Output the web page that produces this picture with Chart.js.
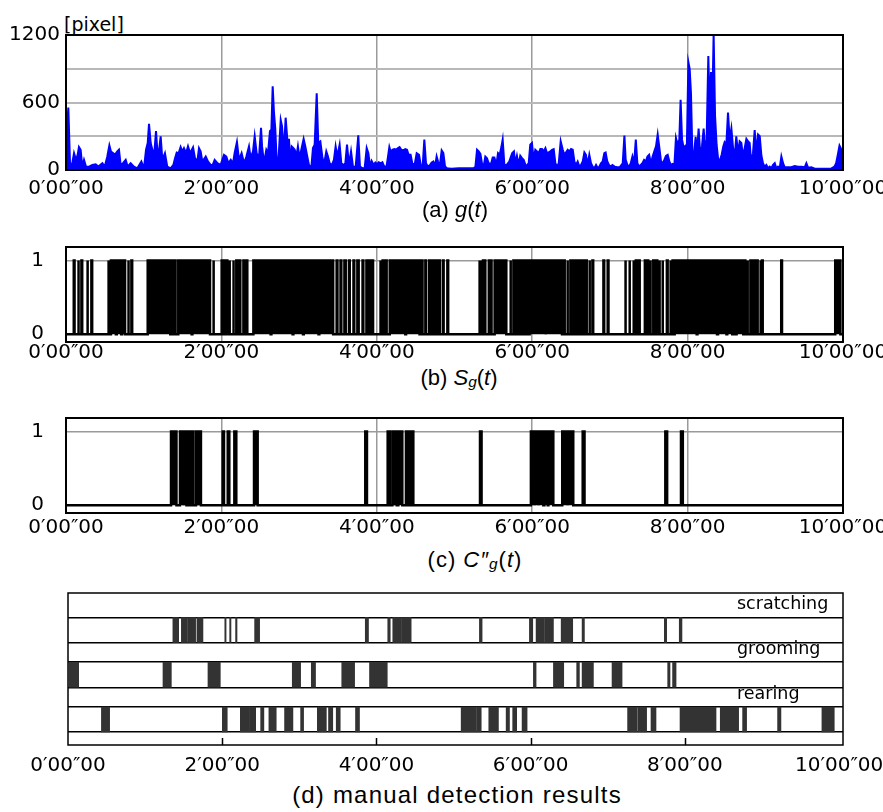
<!DOCTYPE html>
<html>
<head>
<meta charset="utf-8">
<script src="https://cdn.jsdelivr.net/npm/chart.js@4.4.1/dist/chart.umd.min.js"></script>
<style>
  body { margin: 0; background: #fff; width: 883px; height: 812px; overflow: hidden; position: relative; }
  .panel { position: absolute; left: 0; width: 883px; }
  .panel canvas { display: block; }
  .cap { position: absolute; font: 22px "Liberation Sans", Arial, sans-serif; white-space: nowrap; transform: translate(-50%, -50%); }
  .cap sub { font-size: 70%; vertical-align: -2px; }
  .unit { position: absolute; left: 64px; top: 13px; font: 19px "DejaVu Sans", sans-serif; }
</style>
</head>
<body>
<div class="unit">[pixel]</div>
<div class="panel" style="top:0px;height:205px"><canvas id="ga" width="883" height="205"></canvas></div>
<div class="cap" style="left:455px;top:210px">(a) <i>g</i>(<i>t</i>)</div>
<div class="panel" style="top:230px;height:135px"><canvas id="sb" width="883" height="135"></canvas></div>
<div class="cap" style="left:459px;top:378px">(b) <i>S<sub>g</sub></i>(<i>t</i>)</div>
<div class="panel" style="top:400px;height:135px"><canvas id="cc" width="883" height="135"></canvas></div>
<div class="cap" style="left:475px;top:560px;letter-spacing:1px">(c) <i>C″<sub>g</sub></i>(<i>t</i>)</div>
<div class="panel" style="top:575px;height:205px"><canvas id="md" width="883" height="205"></canvas></div>
<div class="cap" style="left:457px;top:795px;font-size:24px;letter-spacing:1.2px">(d) manual detection results</div>

<script>
// time axis (seconds)
var xTickValues = [0, 120, 240, 360, 480, 600];
var xTickLabels = ['0′00″00', '2′00″00', '4′00″00', '6′00″00', '8′00″00', '10′00″00'];

// (a) g(t)
var gTickValues = [0, 300, 600, 900, 1200];
var gTickLabels = ['0', '', '600', '', '1200'];
var gTime = [
  0, 1.8, 3.1, 4.6, 6.2, 7.7, 9.0, 10.0, 11.3, 12.6, 13.9, 15.4, 17.8, 20.3, 22.9, 25.0, 28.1, 29.9, 31.9, 33.5,
  34.7, 36.3, 37.8, 39.6, 40.9, 42.2, 44.0, 46.1, 47.6, 49.9, 52.5, 55.1, 58.2, 60.2, 61.8, 63.1, 64.1, 65.4, 66.7, 68.0,
  69.5, 71.0, 73.1, 74.4, 76.4, 78.2, 80.8, 82.9, 84.2, 85.5, 87.0, 88.5, 89.8, 91.1, 92.7, 94.2, 95.8, 98.1, 99.6, 101.4,
  102.7, 104.0, 105.3, 107.9, 109.7, 111.7, 113.3, 114.8, 116.9, 119.4, 122.0, 123.8, 125.4, 127.2, 129.0, 130.2, 132.0, 133.6, 135.6, 137.5,
  139.3, 141.3, 142.6, 144.4, 145.7, 147.2, 149.0, 150.6, 151.4, 152.9, 154.7, 156.0, 157.5, 158.6, 159.6, 160.6, 161.6, 162.9, 164.2, 165.8,
  166.8, 168.3, 169.6, 170.9, 172.2, 173.2, 174.3, 175.6, 176.6, 177.9, 179.1, 180.4, 181.7, 183.5, 184.8, 186.3, 187.6, 189.4, 190.7, 192.0,
  193.6, 194.8, 196.4, 197.9, 199.2, 201.0, 202.3, 203.6, 205.4, 206.9, 208.2, 209.5, 211.3, 212.6, 214.4, 215.7, 217.0, 218.5, 220.1, 221.6,
  223.7, 225.7, 227.0, 229.1, 230.6, 232.2, 233.5, 234.8, 236.0, 237.6, 238.9, 240.2, 241.4, 243.0, 244.3, 245.5, 247.4, 248.6, 249.7, 250.7,
  252.2, 253.8, 255.1, 256.4, 257.6, 258.9, 260.5, 262.0, 263.3, 264.6, 266.1, 267.4, 269.2, 270.8, 272.6, 273.9, 275.4, 276.7, 278.0, 279.5,
  281.1, 282.4, 283.7, 285.0, 286.2, 287.3, 288.6, 290.1, 291.4, 292.7, 294.2, 297.6, 303.2, 309.7, 314.8, 316.1, 317.4, 318.7, 320.0, 321.2,
  322.5, 323.8, 325.1, 326.4, 328.2, 329.5, 330.8, 332.3, 333.6, 334.9, 336.2, 337.2, 338.5, 340.3, 342.3, 343.6, 344.6, 345.9, 346.9, 348.2,
  349.5, 350.8, 352.1, 353.4, 355.2, 357.3, 358.5, 359.8, 361.1, 362.4, 363.7, 365.0, 366.3, 367.6, 368.9, 370.2, 371.4, 372.7, 374.0, 375.3,
  376.6, 377.9, 379.2, 380.5, 382.0, 383.6, 384.8, 386.1, 387.4, 388.7, 390.0, 391.3, 392.6, 393.8, 395.1, 396.4, 397.7, 399.0, 400.3, 401.5,
  402.8, 404.1, 405.4, 406.7, 408.0, 409.3, 410.6, 411.8, 413.1, 414.4, 415.7, 416.7, 418.0, 419.3, 420.6, 421.9, 423.7, 425.7, 427.8, 429.9,
  431.2, 432.2, 433.5, 434.8, 436.1, 437.4, 438.7, 440.0, 441.2, 442.5, 443.8, 445.1, 446.4, 447.7, 449.0, 450.3, 451.7, 453.0, 454.3, 455.6,
  456.9, 457.9, 459.5, 460.7, 462.0, 463.3, 464.6, 465.9, 467.2, 468.5, 469.8, 471.0, 472.3, 473.6, 474.6, 475.7, 477.0, 478.0, 479.3, 480.6,
  481.6, 482.6, 483.7, 484.9, 486.2, 487.3, 488.5, 489.8, 491.1, 492.4, 493.7, 494.7, 496.0, 497.0, 498.1, 499.1, 500.1, 501.2, 502.4, 503.7,
  505.0, 506.3, 507.6, 508.6, 509.9, 511.2, 512.5, 513.8, 515.1, 516.4, 517.6, 518.9, 520.2, 521.5, 522.8, 524.1, 525.4, 526.6, 527.9, 529.2,
  530.5, 531.8, 533.1, 534.4, 535.7, 537.0, 538.2, 539.5, 540.8, 542.1, 543.4, 544.7, 546.0, 547.3, 548.5, 549.8, 551.1, 552.4, 553.7, 555.0,
  557.6, 560.1, 562.7, 565.3, 567.9, 570.4, 571.7, 573.0, 575.6, 578.2, 581.8, 587.0, 590.8, 593.4, 594.7, 596.0, 597.3, 598.6, 599.9
];
var gValue = [
  240, 555, 60, 45, 150, 90, 135, 204, 180, 30, 90, 30, 30, 45, 50, 30, 60, 30, 120, 219,
  165, 150, 135, 165, 180, 45, 60, 90, 30, 60, 30, 15, 75, 15, 180, 240, 411, 240, 180, 120,
  345, 90, 300, 90, 150, 30, 15, 45, 105, 156, 150, 204, 165, 195, 150, 210, 150, 201, 105, 75,
  195, 165, 75, 120, 75, 45, 45, 90, 60, 45, 135, 120, 60, 90, 60, 150, 249, 90, 150, 60,
  120, 210, 105, 165, 300, 150, 105, 375, 210, 60, 180, 150, 345, 360, 744, 510, 366, 30, 120, 444,
  390, 165, 465, 270, 270, 60, 210, 195, 180, 120, 210, 105, 180, 276, 210, 120, 45, 15, 195, 225,
  681, 240, 255, 120, 45, 165, 120, 60, 45, 90, 210, 120, 225, 60, 45, 60, 225, 45, 165, 30,
  30, 309, 30, 15, 15, 195, 150, 30, 81, 45, 66, 51, 69, 60, 69, 36, 24, 114, 204, 165,
  180, 186, 180, 195, 204, 180, 174, 186, 180, 135, 135, 60, 45, 150, 135, 45, 30, 270, 60, 30,
  45, 66, 75, 30, 120, 75, 30, 174, 150, 30, 15, 12, 15, 15, 18, 24, 180, 165, 144, 60,
  30, 120, 105, 60, 54, 111, 111, 45, 150, 135, 204, 270, 45, 45, 75, 120, 150, 165, 60, 126,
  45, 126, 105, 90, 30, 60, 225, 240, 90, 180, 165, 150, 186, 186, 165, 195, 150, 156, 165, 180,
  186, 60, 30, 60, 255, 180, 135, 156, 180, 165, 186, 180, 75, 45, 75, 30, 45, 75, 156, 135,
  45, 135, 60, 30, 15, 45, 15, 30, 60, 75, 150, 156, 75, 45, 30, 45, 30, 24, 27, 60,
  306, 90, 45, 30, 60, 120, 60, 270, 60, 30, 45, 60, 90, 75, 120, 135, 60, 120, 165, 210,
  315, 225, 75, 60, 90, 126, 135, 75, 45, 54, 45, 285, 225, 270, 624, 270, 195, 210, 126, 960,
  900, 681, 135, 135, 294, 150, 369, 135, 210, 369, 150, 270, 1014, 540, 870, 570, 1210, 480, 225, 84,
  90, 135, 210, 246, 225, 510, 270, 369, 195, 120, 300, 150, 255, 240, 120, 195, 276, 255, 240, 60,
  150, 354, 150, 315, 300, 126, 60, 30, 45, 15, 30, 15, 45, 60, 15, 30, 15, 120, 60, 24,
  24, 24, 36, 30, 30, 24, 60, 21, 24, 12, 12, 12, 12, 30, 60, 135, 216, 186, 75
];

// (b) Sg(t): spans where the signal is 1 [start, end] in seconds
var binTickValues = [0, 1];
var binTickLabels = ['0', '1'];
var sgOn = [
  [6.0, 6.6], [9.3, 9.9], [11.9, 12.5], [16.3, 16.9], [19.6, 20.2],
  [32.5, 33.1], [34.7, 38.5], [39.2, 42.6], [43.3, 45.6], [47.9, 48.5], [50.5, 51.1],
  [63.1, 80.5], [81.2, 82.9], [84.0, 84.6], [86.7, 97.0], [97.6, 111.2], [113.6, 114.2],
  [120.2, 120.8], [122.0, 122.6], [124.0, 124.6], [126.0, 126.6],
  [129.0, 129.6], [131.5, 132.1], [134.0, 134.6], [137.0, 137.6], [139.4, 140.0],
  [144.7, 158.0], [158.6, 175.0], [175.6, 183.0], [183.6, 195.0], [195.6, 206.3],
  [209.0, 209.6], [212.0, 212.6], [215.0, 216.0], [218.5, 219.1], [222.0, 222.6], [225.0, 226.0],
  [229.0, 229.6], [232.0, 232.6], [234.5, 235.1], [236.5, 237.1],
  [242.5, 243.1], [244.5, 245.1], [247.0, 247.6], [250.0, 262.0], [262.6, 273.0],
  [274.7, 275.3], [277.5, 278.1], [280.5, 281.1], [283.0, 283.6], [285.5, 286.1], [288.0, 288.6],
  [291.0, 291.6], [294.5, 295.1],
  [319.0, 319.6], [320.5, 321.1], [322.0, 322.6], [323.2, 323.8], [326.5, 327.1], [328.0, 328.6],
  [331.0, 340.0], [343.0, 343.6], [345.5, 346.1], [348.0, 348.6], [350.0, 350.6], [352.5, 353.1],
  [355.0, 355.6], [356.5, 357.1], [358.0, 370.0], [370.6, 383.0],
  [384.5, 385.1], [387.0, 387.6], [389.5, 390.1], [392.0, 392.6], [394.5, 395.1], [396.5, 397.1],
  [399.0, 399.6], [401.5, 402.1], [404.0, 404.6], [406.5, 407.1], [415.0, 415.6], [418.3, 418.9],
  [431.7, 432.3], [434.9, 435.5], [438.0, 438.6], [440.0, 440.6], [442.4, 443.0],
  [447.0, 447.6], [449.0, 449.6], [451.0, 451.6], [453.5, 454.1], [456.0, 456.6], [458.0, 458.6],
  [460.4, 461.0], [464.0, 464.6], [466.5, 467.1], [468.4, 469.0],
  [470.0, 487.0], [487.6, 502.7], [503.5, 510.0], [510.6, 514.5], [515.2, 517.0], [517.8, 523.0],
  [524.0, 524.6], [526.0, 526.6], [528.5, 529.1], [531.0, 531.6], [533.5, 534.1], [536.0, 536.6],
  [537.4, 538.0], [552.3, 552.9], [594.0, 598.0]
];

// (c) C''g(t)
var cgOn = [
  [81.1, 85.3], [88.0, 90.5], [91.0, 93.0], [93.6, 94.6], [95.0, 96.5], [97.0, 98.3],
  [100.4, 102.0], [102.6, 104.2], [121.0, 122.0], [124.9, 126.1], [130.0, 131.5], [145.2, 148.0],
  [231.1, 232.4], [248.4, 250.0], [252.0, 253.6], [254.0, 255.4], [256.6, 259.7],
  [262.5, 264.0], [264.5, 266.0], [266.6, 268.2],
  [319.7, 320.9], [359.0, 361.5], [362.0, 364.5], [365.0, 368.6], [369.4, 372.0], [372.5, 376.3],
  [383.2, 387.0], [387.5, 391.7], [399.0, 400.4], [462.8, 464.2], [474.9, 476.3]
];

// (d) manual detection results
var trackNames = ['scratching', 'grooming', 'rearing'];
var trackRows = [3, 2, 1];
var scratching = [
  [81.6, 86.1], [88.2, 92.6], [93.0, 96.3], [96.6, 99.3], [100.3, 105.0], [122.0, 123.0],
  [125.8, 126.8], [130.4, 131.5], [145.2, 149.1], [231.3, 233.8], [248.8, 250.7], [252.7, 259.5],
  [259.8, 267.0], [320.1, 322.2], [359.0, 361.6], [364.2, 370.5], [370.8, 377.7], [383.7, 392.7],
  [400.0, 401.8], [464.0, 465.8], [475.6, 477.7]
];
var grooming = [
  [0.8, 8.3], [73.9, 80.4], [108.9, 118.5], [174.5, 181.0], [189.3, 192.6], [213.0, 223.0],
  [234.6, 248.4], [362.1, 364.2], [377.7, 385.7], [395.8, 397.9], [400.0, 408.8], [423.3, 431.1],
  [466.6, 468.4], [470.4, 473.1]
];
var rearing = [
  [26.0, 32.4], [120.1, 123.9], [134.1, 141.3], [141.6, 146.0], [149.9, 152.4], [156.3, 162.0],
  [168.5, 175.0], [181.0, 183.3], [194.0, 201.0], [202.7, 206.0], [208.7, 211.8], [223.7, 226.8],
  [305.9, 317.6], [317.9, 321.5], [327.4, 334.9], [340.9, 343.5], [346.0, 349.1], [353.3, 357.2],
  [435.4, 442.5], [443.2, 450.2], [453.6, 457.5], [476.2, 504.2], [507.5, 521.8], [524.9, 528.0],
  [552.1, 554.7], [586.6, 596.2]
];
var trackEvents = [scratching, grooming, rearing];

Chart.defaults.font.family = '"DejaVu Sans", sans-serif';
Chart.defaults.font.size = 20;
Chart.defaults.color = '#000';

// black box round the plot area, optional short ticks inside the bottom edge
var frame = {
  id: 'frame',
  afterDatasetsDraw: function (chart, args, opts) {
    var a = chart.chartArea, ctx = chart.ctx;
    ctx.save();
    ctx.strokeStyle = '#000';
    ctx.lineWidth = opts.width || 2;
    if (opts.innerTicks) {
      var xs = chart.scales.x;
      xTickValues.forEach(function (v) {
        if (v <= 0 || v >= 600) return;
        var x = Math.round(xs.getPixelForValue(v)) + 0.5;
        ctx.beginPath();
        ctx.moveTo(x, a.bottom);
        ctx.lineTo(x, a.bottom - opts.innerTicks);
        ctx.stroke();
      });
    }
    ctx.strokeRect(a.left, a.top, a.right - a.left, a.bottom - a.top);
    ctx.restore();
  }
};

var trackLabels = {
  id: 'trackLabels',
  afterDraw: function (chart) {
    var ctx = chart.ctx, a = chart.chartArea, ys = chart.scales.y;
    ctx.save();
    ctx.font = '17.5px "DejaVu Sans", sans-serif';
    ctx.fillStyle = '#000';
    ctx.textAlign = 'left';
    ctx.textBaseline = 'middle';
    trackNames.forEach(function (n, i) {
      ctx.fillText(n, a.right - 106, ys.getPixelForValue(trackRows[i] + 0.56));
    });
    ctx.restore();
  }
};

function timeAxis(max, pad, h, grid) {
  return {
    type: 'linear', min: 0, max: max,
    afterBuildTicks: function (s) { s.ticks = xTickValues.map(function (v) { return { value: v }; }); },
    afterFit: function (s) { s.height = h; s.paddingLeft = 0; s.paddingRight = 0; },
    ticks: { padding: pad, maxRotation: 0, autoSkip: false, callback: function (v, i) { return xTickLabels[i]; } },
    grid: { display: grid, color: '#9a9a9a', lineWidth: 1.5, drawTicks: false },
    border: { display: false }
  };
}

function binAxis() {
  return {
    type: 'linear', min: -0.105, max: 1.185,
    afterBuildTicks: function (s) { s.ticks = binTickValues.map(function (v) { return { value: v }; }); },
    afterFit: function (s) { s.width = 66; s.paddingTop = 0; s.paddingBottom = 0; },
    ticks: { padding: 22, callback: function (v, i) { return binTickLabels[i]; } },
    grid: { drawTicks: false, lineWidth: 1.5, color: function (c) { return c.tick && c.tick.value === 1 ? '#9a9a9a' : 'rgba(0,0,0,0)'; } },
    border: { display: false }
  };
}

function pulses(list) {
  var pts = [{ x: 0, y: 0 }];
  list.forEach(function (p) {
    pts.push({ x: p[0], y: 0 }, { x: p[0], y: 1 }, { x: p[1], y: 1 }, { x: p[1], y: 0 });
  });
  pts.push({ x: 600, y: 0 });
  return pts;
}

var base = {
  responsive: false, animation: false, devicePixelRatio: 1,
  plugins: { legend: { display: false }, tooltip: { enabled: false }, frame: { width: 2 } }
};

function opts(extra) { return Object.assign({}, base, extra); }

new Chart(document.getElementById('ga'), {
  type: 'line',
  data: { datasets: [{
    data: gTime.map(function (t, i) { return { x: t, y: gValue[i] }; }),
    borderColor: '#0000ff', backgroundColor: '#0000ff', borderWidth: 2,
    fill: 'origin', pointRadius: 0, tension: 0
  }] },
  options: opts({
    layout: { padding: { top: 35, right: 40, left: 0, bottom: 0 } },
    scales: {
      x: timeAxis(600, 7, 35, true),
      y: {
        type: 'linear', min: 0, max: 1200,
        afterBuildTicks: function (s) { s.ticks = gTickValues.map(function (v) { return { value: v }; }); },
        afterFit: function (s) { s.width = 66; s.paddingTop = 0; s.paddingBottom = 0; },
        ticks: { padding: 6, callback: function (v, i) { return gTickLabels[i]; } },
        grid: { color: '#b8b8b8', lineWidth: 2, drawTicks: false },
        border: { display: false }
      }
    }
  }),
  plugins: [frame]
});

[['sb', sgOn, 17, 23, -1], ['cc', cgOn, 18, 22, 3]].forEach(function (p) {
  new Chart(document.getElementById(p[0]), {
    type: 'line',
    data: { datasets: [{
      data: pulses(p[1]),
      borderColor: '#000', backgroundColor: '#000', borderWidth: 2.5,
      fill: 'origin', pointRadius: 0, tension: 0
    }] },
    options: opts({
      layout: { padding: { top: p[2], right: 40, left: 0, bottom: 0 } },
      scales: { x: timeAxis(600, p[4], p[3], true), y: binAxis() }
    }),
    plugins: [frame]
  });
});

var bars = [];
trackEvents.forEach(function (list, i) {
  list.forEach(function (iv) { bars.push({ x: iv, y: trackRows[i] }); });
});
var rowHalf = 0.285;
var trackEdges = [];
trackRows.forEach(function (r) { trackEdges.push(r - rowHalf, r + rowHalf); });

new Chart(document.getElementById('md'), {
  type: 'bar',
  data: { datasets: [{ data: bars, backgroundColor: '#333333', borderWidth: 0, barThickness: 25 }] },
  options: opts({
    indexAxis: 'y',
    layout: { padding: { top: 18, right: 40, left: 0, bottom: 0 } },
    plugins: { legend: { display: false }, tooltip: { enabled: false }, frame: { width: 1.5, innerTicks: 7 } },
    scales: {
      x: Object.assign(timeAxis(603, 9, 35, false), { stacked: false }),
      y: {
        type: 'linear', min: 0.43, max: 3.827, offset: false,
        afterBuildTicks: function (s) { s.ticks = trackEdges.map(function (v) { return { value: v }; }); },
        afterFit: function (s) { s.width = 68; s.paddingTop = 0; s.paddingBottom = 0; },
        ticks: { display: false },
        grid: { color: '#000', lineWidth: 1.5, drawTicks: false, offset: false },
        border: { display: false }
      }
    }
  }),
  plugins: [frame, trackLabels]
});
</script>
</body>
</html>
